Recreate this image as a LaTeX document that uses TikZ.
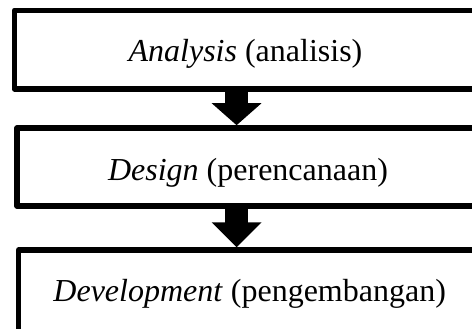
\documentclass[tikz,border=0pt]{standalone}
\usepackage{fontspec}
\setmainfont{Liberation Serif}
\usetikzlibrary{arrows.meta}
\begin{document}
\begin{tikzpicture}[x=1pt,y=-1pt]
\tikzset{
  box/.style={draw, line width=5.5pt, line join=round, minimum width=462pt,
    inner sep=0pt, text depth=2pt, font=\fontsize{32}{38}\selectfont},
  blockarrow/.style={line width=23.3pt}
}
\useasboundingbox (0,0) rectangle (472,329);
\clip (0,0) rectangle (472,329);
\node[box, minimum height=78.7pt, text height=26.1pt] (a) at (245.5,49.65) {\textit{Analysis} (analisis)};
\node[box, minimum height=78pt, text height=28pt] (b) at (248,167) {\textit{Design} (perencanaan)};
\node[box, minimum height=81.5pt, text height=23.9pt] (c) at (249.7,290.75) {\textit{Development} (pengembangan)};
\coordinate (ax) at (236.6,0);
\draw[blockarrow, -{Triangle[width=48.5pt,length=22pt]}] (a.south -| ax) -- (b.north -| ax);
\draw[blockarrow, -{Triangle[width=48.5pt,length=25pt]}] (b.south -| ax) -- (c.north -| ax);
\end{tikzpicture}
\end{document}
